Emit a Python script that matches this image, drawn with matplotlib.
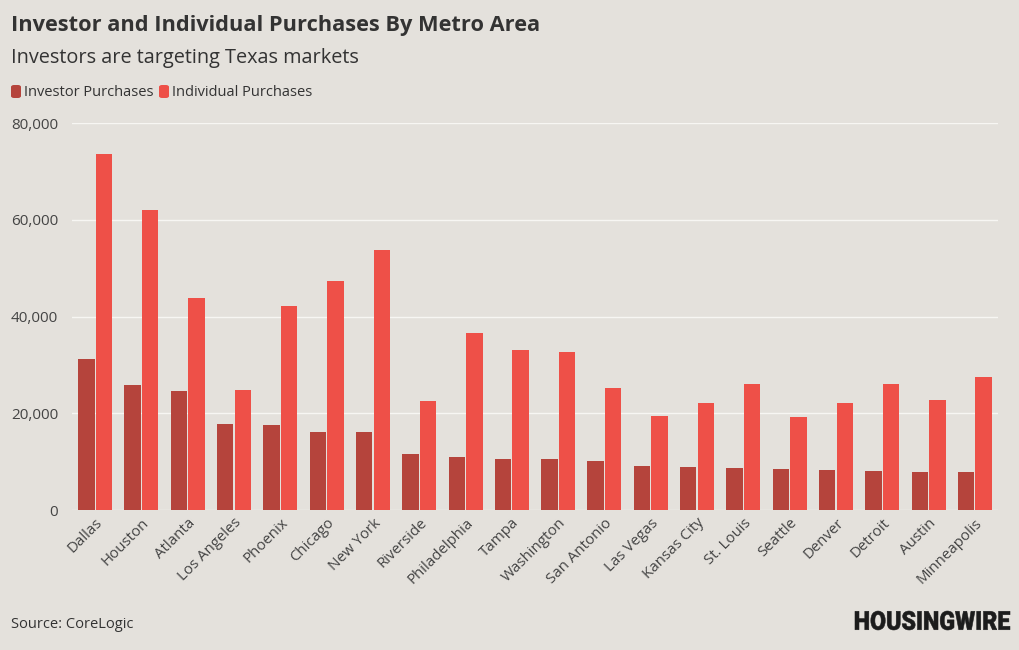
import matplotlib
matplotlib.use("Agg")
import matplotlib.pyplot as plt
from matplotlib.patches import FancyBboxPatch, PathPatch
from matplotlib.textpath import TextPath
from matplotlib.font_manager import FontProperties
from matplotlib.transforms import Affine2D, IdentityTransform
import numpy as np

metros = ["Dallas", "Houston", "Atlanta", "Los Angeles", "Phoenix", "Chicago", "New York",
          "Riverside", "Philadelphia", "Tampa", "Washington", "San Antonio", "Las Vegas",
          "Kansas City", "St. Louis", "Seattle", "Denver", "Detroit", "Austin", "Minneapolis"]
investor = [31200, 25800, 24600, 17700, 17600, 16200, 16150, 11650, 10950, 10550, 10500,
            10150, 9100, 8950, 8700, 8500, 8350, 8150, 7850, 7800]
individual = [73700, 62000, 43900, 24850, 42150, 47400, 53750, 22650, 36600, 33100, 32700,
              25250, 19450, 22200, 26000, 19300, 22200, 26050, 22750, 27600]
yticks = [0, 20000, 40000, 60000, 80000]

BG = "#e4e1dc"
C_INV = "#b5443c"
C_IND = "#ee5048"
TXT = "#333333"

plt.rcParams['font.family'] = ['Open Sans', 'DejaVu Sans']

W, H = 1020, 650
fig = plt.figure(figsize=(W/100, H/100), dpi=100, facecolor=BG)
ax = fig.add_axes([72/W, 1-510/H, (998-72)/W, (510-123.3)/H])
ax.set_facecolor(BG)

x = np.arange(len(metros))
w = 0.355
ax.bar(x - 0.19, investor, w, color=C_INV, zorder=3)
ax.bar(x + 0.19, individual, w, color=C_IND, zorder=3)

ax.set_xlim(-0.5, len(metros) - 0.5)
ax.set_ylim(0, 80000)
ax.set_yticks(yticks)
ax.set_yticklabels([f"{v:,}" for v in yticks], fontsize=11, color="#444444")
ax.yaxis.grid(True, color="#f7f6f3", lw=1, zorder=0)
ax.tick_params(axis='y', length=0, pad=10)
ax.tick_params(axis='x', length=0, pad=4)
ax.set_xticks(x)
ax.set_xticklabels(metros, rotation=45, ha='right', rotation_mode='anchor',
                   fontsize=10.8, color="#444444")
for s in ax.spines.values():
    s.set_visible(False)

fig.text(11/W, 1-26/H, "Investor and Individual Purchases By Metro Area",
         fontsize=15.7, fontweight='bold', color=TXT, va='center', ha='left')
fig.text(11/W, 1-58/H, "Investors are targeting Texas markets",
         fontsize=14.3, color=TXT, va='center', ha='left')

# legend
for xs, label, col in [(11, "Investor Purchases", C_INV), (159, "Individual Purchases", C_IND)]:
    p = FancyBboxPatch((xs/W, 1-98/H), 10/W, 13/H,
                       boxstyle="round,pad=0,rounding_size=0.003",
                       transform=fig.transFigure, facecolor=col, edgecolor='none')
    fig.patches.append(p)
    fig.text((xs+13)/W, 1-93/H, label, fontsize=10.5, color=TXT, va='center', ha='left')

fig.text(11/W, 1-625/H, "Source: CoreLogic", fontsize=10.5, color=TXT,
         va='center', ha='left')

# logo: condensed bold wordmark fitted into its box
tp = TextPath((0, 0), "HOUSINGWIRE", size=20,
              prop=FontProperties(family=['Roboto', 'DejaVu Sans'], weight='heavy'))
ext = tp.get_extents()
x0, x1, y0, y1 = 855, 1010, H-630, H-611
tr = (Affine2D().translate(-ext.x0, -ext.y0)
      .scale((x1-x0)/ext.width, (y1-y0)/ext.height).translate(x0, y0))
logo = PathPatch(tr.transform_path(tp), facecolor="#1c1c1c", edgecolor="#1c1c1c",
                 lw=0.4, transform=IdentityTransform())
fig.patches.append(logo)

fig.savefig("out.png", dpi=100, facecolor=BG)
